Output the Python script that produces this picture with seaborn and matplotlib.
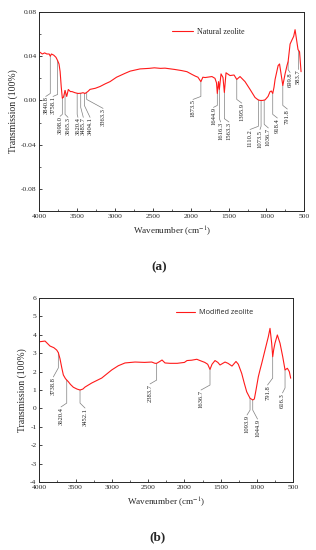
import numpy as np
import matplotlib
matplotlib.use("Agg")
import matplotlib.pyplot as plt
import seaborn as sns
from matplotlib.ticker import MultipleLocator, FormatStrFormatter

# ---- (a) natural zeolite spectrum ----
wn_a = [4000, 3960, 3930, 3900, 3870, 3855, 3840, 3810, 3780, 3758, 3740, 3725, 3710,
        3696, 3680, 3660, 3638, 3617, 3590, 3568, 3530, 3489, 3450, 3423, 3396, 3360,
        3330, 3260, 3198, 3130, 3066, 2980, 2868, 2800, 2670, 2550, 2480, 2400, 2340,
        2210, 2120, 2050, 1983, 1940, 1905, 1866, 1840, 1810, 1720, 1680, 1660, 1649,
        1633, 1622, 1600, 1574, 1556, 1534, 1481, 1428, 1392, 1349, 1283, 1217, 1151,
        1110, 1085, 1050, 1018, 979, 952, 935, 917, 900, 886, 846, 827, 807, 784, 754,
        727, 714, 688, 661, 640, 622, 609, 583, 563, 543]
tr_a = [0.044, 0.042, 0.043, 0.042, 0.042, 0.040, 0.042, 0.041, 0.039, 0.036, 0.033,
        0.026, 0.012, 0.002, 0.003, 0.009, 0.0036, 0.0099, 0.008, 0.008, 0.007, 0.0063,
        0.0065, 0.007, 0.0063, 0.008, 0.010, 0.011, 0.0126, 0.015, 0.017, 0.021, 0.0245,
        0.0265, 0.0285, 0.029, 0.0295, 0.029, 0.0292, 0.028, 0.027, 0.026, 0.0235, 0.022,
        0.021, 0.017, 0.021, 0.0207, 0.0216, 0.020, 0.016, 0.0063, 0.017, 0.010, 0.024,
        0.0207, 0.0072, 0.025, 0.0225, 0.023, 0.019, 0.0216, 0.017, 0.010, 0.0027,
        0.0005, 0.0, 0.0, 0.0005, 0.0036, 0.008, 0.0085, 0.0063, 0.012, 0.019, 0.0315,
        0.033, 0.024, 0.0135, 0.024, 0.032, 0.035, 0.051, 0.055, 0.058, 0.064, 0.058,
        0.046, 0.044, 0.026]

peak_txt_a = ["3840.8", "3758.1", "3698.0", "3665.3", "3620.4", "3485.7", "3404.1", "3363.3",
              "1873.5", "1644.9", "1616.3", "1563.3", "1395.9", "1110.2", "1073.5", "1036.7",
              "918.4", "791.8", "699.8", "583.7"]
peak_wn_a = [3855, 3758, 3696, 3660, 3500, 3453, 3405, 3374,
             1866, 1649, 1622, 1556, 1392, 1107, 1071, 1030,
             917, 784, 714, 583]
# leader layout: knee height, text position
knee_a = [0.0063, 0.0054, -0.0126, -0.0126, -0.0126, -0.0063, -0.0045, 0.0009,
          0.0036, -0.0045, -0.0165, -0.0165, 0.0009, -0.0234, -0.0234, -0.0216,
          -0.0126, -0.0045, 0.0279, 0.0297]
txt_wn_a = [3915, 3819, 3727, 3621, 3490, 3419, 3330, 3158,
            1970, 1700, 1605, 1495, 1326, 1217, 1085, 975,
            856, 724, 688, 583]
txt_y_a = [0.0036, 0.0036, -0.0144, -0.0153, -0.0153, -0.0153, -0.0153, -0.0072,
           0.0009, -0.0063, -0.0195, -0.0195, -0.0024, -0.0263, -0.0263, -0.0249,
           -0.0159, -0.0078, 0.0252, 0.028]

# ---- (b) modified zeolite spectrum ----
wn_b = [4000, 3921, 3853, 3800, 3760, 3738, 3715, 3690, 3669, 3640, 3622, 3600, 3570,
        3531, 3480, 3439, 3400, 3370, 3278, 3140, 3002, 2911, 2819, 2681, 2550, 2451,
        2406, 2383, 2340, 2309, 2268, 2200, 2100, 2000, 1965, 1900, 1830, 1786, 1720,
        1680, 1648, 1620, 1579, 1540, 1510, 1441, 1400, 1345, 1290, 1258, 1211, 1175,
        1142, 1096, 1059, 1037, 1014, 982, 959, 935, 890, 844, 821, 798, 784, 770, 753,
        720, 683, 646, 614, 582, 555, 536]
tr_b = [3.62, 3.66, 3.39, 3.30, 3.17, 3.03, 2.7, 2.2, 1.82, 1.62, 1.54, 1.45, 1.3,
        1.15, 1.05, 1.0, 1.05, 1.16, 1.38, 1.65, 2.09, 2.32, 2.47, 2.52, 2.5, 2.52,
        2.45, 2.45, 2.55, 2.63, 2.47, 2.45, 2.45, 2.5, 2.6, 2.62, 2.67, 2.6, 2.5,
        2.4, 2.12, 2.4, 2.6, 2.5, 2.36, 2.52, 2.45, 2.3, 2.55, 2.4, 1.9, 1.36,
        0.9, 0.55, 0.46, 0.51, 1.0, 1.72, 2.09, 2.45, 3.17, 3.9, 4.35, 3.54, 2.81, 3.2, 3.54,
        3.99, 3.54, 2.81, 2.09, 2.18, 2.0, 1.64]

peak_txt_b = ["3738.8", "3620.4", "3452.1", "2383.7", "1636.7", "1093.9", "1044.9", "791.8", "616.3"]
peak_wn_b = [3738, 3622, 3439, 2383, 1648, 1096, 1059, 784, 614]
knee_b = [2.2, 0.29, 0.29, 1.54, 1.27, -0.09, -0.09, 1.65, 1.11]
txt_wn_b = [3807, 3701, 3370, 2474, 1772, 1138, 993, 855, 649]
txt_y_b = [1.71, 0.08, 0.02, 1.33, 1.0, -0.36, -0.58, 1.27, 0.84]

sns.set_style("ticks")
plt.rcParams['font.family'] = ['Liberation Serif', 'DejaVu Serif']
plt.rcParams['mathtext.fontset'] = 'stix'
plt.rcParams['axes.unicode_minus'] = False
plt.rcParams['xtick.direction'] = 'in'
plt.rcParams['ytick.direction'] = 'in'

fig = plt.figure(figsize=(3.16, 5.5), dpi=100)
ax_a = fig.add_axes([0.1244, 0.6164, 0.8386, 0.3618])
ax_b = fig.add_axes([0.1244, 0.1236, 0.8038, 0.3346])


def draw_panel(ax, wn, tr, label, names, pwn, knee, twn, ty, legend_font, legend_anchor):
    sns.lineplot(x=wn, y=tr, ax=ax, color='#ff1a1a', lw=0.8, label=label)
    for name, w, k, tw, tv in zip(names, pwn, knee, twn, ty):
        v0 = np.interp(w, wn[::-1], tr[::-1])
        ax.plot([w, w, tw], [v0, k, tv], color='#7f7f7f', lw=0.5, zorder=1)
        ax.text(tw, tv, name, rotation=90, ha='center', va='top', fontsize=4.7, color='#222222')
    ax.set_xlim(4000, 500)
    ax.xaxis.set_major_locator(MultipleLocator(500))
    ax.xaxis.set_minor_locator(MultipleLocator(250))
    ax.tick_params(which='major', length=2.5, width=0.6, labelsize=5.4, pad=2)
    ax.tick_params(which='minor', length=1.5, width=0.5)
    for s in ax.spines.values():
        s.set_linewidth(0.7)
    ax.set_xlabel('Wavenumber (cm$^{-1}$)', fontsize=6.6, labelpad=4)
    ax.set_ylabel('Transmission (100%)', fontsize=7, labelpad=2)
    ax.legend(loc='center left', bbox_to_anchor=legend_anchor, frameon=False,
              borderpad=0, borderaxespad=0, handlelength=2.6, handletextpad=0.5,
              prop=legend_font)


draw_panel(ax_a, wn_a, tr_a, 'Natural zeolite', peak_txt_a, peak_wn_a, knee_a, txt_wn_a, txt_y_a,
           {'family': 'Liberation Serif', 'size': 5.8}, (0.5, 0.9))
ax_a.set_ylim(-0.1, 0.08)
ax_a.yaxis.set_major_locator(MultipleLocator(0.04))
ax_a.yaxis.set_minor_locator(MultipleLocator(0.02))
ax_a.yaxis.set_major_formatter(FormatStrFormatter('%.2f'))

draw_panel(ax_b, wn_b, tr_b, 'Modified zeolite', peak_txt_b, peak_wn_b, knee_b, txt_wn_b, txt_y_b,
           {'family': 'Open Sans', 'size': 5.2}, (0.54, 0.92))
ax_b.set_ylim(-4, 6)
ax_b.yaxis.set_major_locator(MultipleLocator(1))

fig.text(0.503, 1 - 267 / 550, '(a)', ha='center', va='center', fontsize=9.5, fontweight='bold')
fig.text(0.5, 1 - 537 / 550, '(b)', ha='center', va='center', fontsize=9.5, fontweight='bold')

fig.savefig('out.png', dpi=100)
